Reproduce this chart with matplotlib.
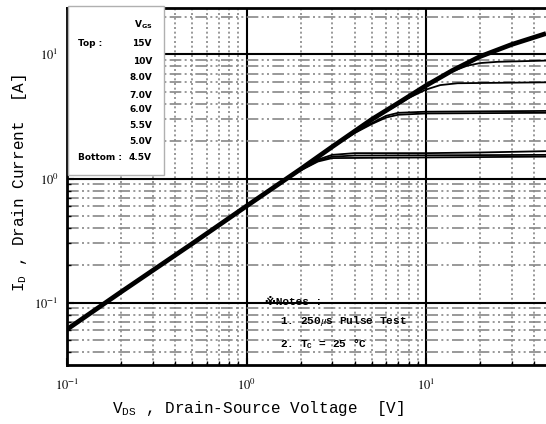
import matplotlib
matplotlib.use("Agg")
import matplotlib.pyplot as plt
from matplotlib.ticker import LogLocator, FixedLocator, NullFormatter
from matplotlib.patches import Rectangle

plt.rcParams['mathtext.fontset'] = 'stix'

# Shared linear (ohmic) region
v_lin = [0.1, 0.2, 0.5, 1.0]
i_lin = [0.061, 0.122, 0.30, 0.60]

# Each gate-voltage curve beyond the shared region
v_15 = [2, 3, 5, 7, 10, 14, 20, 30, 46.6]
i_15 = [1.19, 1.8, 3.0, 4.05, 5.6, 7.4, 9.6, 12.0, 14.7]
v_10 = [2, 3, 5, 7, 10, 14, 17, 20, 25, 46.6]
i_10 = [1.19, 1.8, 3.0, 4.05, 5.6, 7.3, 8.1, 8.5, 8.7, 8.9]
v_8 = [2, 3, 5, 7, 8, 10, 12, 15, 46.6]
i_8 = [1.19, 1.8, 3.0, 3.95, 4.45, 5.2, 5.65, 5.85, 5.95]
v_7 = [2, 3, 4, 5, 6, 7, 10, 46.6]
i_7 = [1.19, 1.8, 2.35, 2.8, 3.2, 3.38, 3.45, 3.5]
v_6 = [2, 3, 4, 5, 6, 7, 10, 46.6]
i_6 = [1.19, 1.78, 2.32, 2.75, 3.1, 3.26, 3.34, 3.38]
v_55 = [1.7, 2.0, 2.5, 3.0, 4.0, 10, 20, 46.6]
i_55 = [1.01, 1.18, 1.42, 1.55, 1.6, 1.6, 1.62, 1.66]
v_5 = [1.7, 2.0, 2.5, 3.0, 4.0, 46.6]
i_5 = [1.01, 1.17, 1.39, 1.5, 1.53, 1.55]
v_45 = [1.7, 2.0, 2.5, 3.0, 46.6]
i_45 = [1.01, 1.16, 1.37, 1.46, 1.5]

legend_labels = ["15V", "10V", "8.0V", "7.0V", "6.0V", "5.5V", "5.0V", "4.5V"]

fig = plt.figure(figsize=(5.46, 4.24), dpi=100)
ax = fig.add_axes([67/546, 1-365/424, 1-67/546, (365-8)/424])
ax.set_xscale('log')
ax.set_yscale('log')
ax.set_xlim(0.1, 46.6)
ax.set_ylim(0.0315, 23.6)

# grid
ax.grid(True, which='major', color='black', lw=1.5, ls='-', zorder=1)
ax.xaxis.set_minor_locator(LogLocator(base=10, subs=range(2, 10)))
ax.yaxis.set_minor_locator(LogLocator(base=10, subs=range(2, 10)))
ax.xaxis.grid(True, which='minor', color='#888888', lw=1.2, ls=(0, (1.2, 1.6)), zorder=0)
ax.yaxis.grid(True, which='minor', color='#888888', lw=1.2, ls=(0, (7, 2, 1.2, 2, 1.2, 2)), zorder=0)
ax.set_axisbelow(True)

for spine in ['left', 'bottom', 'top']:
    ax.spines[spine].set_linewidth(2.0)
ax.spines['right'].set_visible(False)
ax.tick_params(which='both', direction='in', top=False, right=False)
ax.tick_params(which='major', length=5, width=1.5)
ax.tick_params(which='minor', length=3, width=1.0)

ax.xaxis.set_major_locator(FixedLocator([0.1, 1, 10]))
ax.set_xticklabels([r'$10^{-1}$', r'$10^{0}$', r'$10^{1}$'], fontsize=9)
ax.xaxis.set_minor_formatter(NullFormatter())
ax.yaxis.set_major_locator(FixedLocator([0.1, 1, 10]))
ax.set_yticklabels([r'$10^{-1}$', r'$10^{0}$', r'$10^{1}$'], fontsize=9)
ax.yaxis.set_minor_formatter(NullFormatter())
ax.tick_params(axis='x', pad=9)
ax.tick_params(axis='y', pad=6)

curves = [(v_45, i_45), (v_5, i_5), (v_55, i_55), (v_6, i_6),
          (v_7, i_7), (v_8, i_8), (v_10, i_10)]
for v, i in curves:
    ax.plot(v_lin + v, i_lin + i, color='black', lw=1.3, zorder=3)
ax.plot(v_lin + v_15, i_lin + i_15, color='black', lw=3.4, zorder=4,
        solid_capstyle='butt', solid_joinstyle='round')

mono = 'Liberation Mono'
fig.text(258/546, 1-408/424, r'V$_{\mathregular{DS}}$ , Drain-Source Voltage  [V]',
         ha='center', va='center', fontsize=11.5, family=mono)
fig.text(20/546, 1-183/424, r'I$_{\mathregular{D}}$ , Drain Current  [A]',
         ha='center', va='center', fontsize=11.5, family=mono, rotation=90)

# legend box
box = Rectangle((68/546, 1-175/424), (164-68)/546, (175-6)/424,
                transform=fig.transFigure, facecolor='white',
                edgecolor='#b0b0b0', lw=1.0, zorder=5)
fig.patches.append(box)
lab_kw = dict(fontsize=6.5, fontweight='bold', family='DejaVu Sans', zorder=6)
fig.text(152/546, 1-25/424, r'V$_{\mathregular{GS}}$', ha='right', va='center', **lab_kw)
rows_y = [43, 62, 78, 95, 110, 126, 142, 157]
for lab, yy in zip(legend_labels, rows_y):
    fig.text(152/546, 1-yy/424, lab, ha='right', va='center', **lab_kw)
fig.text(78/546, 1-43/424, 'Top :', ha='left', va='center', **lab_kw)
fig.text(78/546, 1-157/424, 'Bottom :', ha='left', va='center', **lab_kw)

# notes
note_kw = dict(fontsize=8, fontweight='bold', family=['Liberation Mono', 'DejaVu Sans'], zorder=6)
fig.text(265/546, 1-302/424, '※Notes :', ha='left', va='center', **note_kw)
fig.text(280/546, 1-321/424, r'1. 250$\mu$s Pulse Test', ha='left', va='center', **note_kw)
fig.text(280/546, 1-344/424, r'2. T$_{\mathregular{C}}$ = 25 °C', ha='left', va='center', **note_kw)

fig.savefig('out.png', dpi=100)
